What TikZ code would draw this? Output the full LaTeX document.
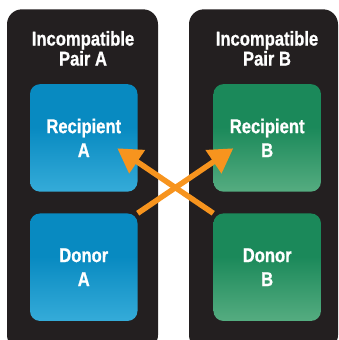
\documentclass[tikz,border=0pt]{standalone}
\usepackage{fontspec}
\setmainfont{Liberation Sans}[FakeStretch=0.83, BoldFeatures={FakeBold=0.8}]
\usetikzlibrary{arrows.meta, positioning}
\definecolor{panel}{RGB}{35,31,32}
\definecolor{bluetop}{RGB}{8,138,193}
\definecolor{bluebot}{RGB}{78,190,230}
\definecolor{greentop}{RGB}{27,137,90}
\definecolor{greenbot}{RGB}{118,192,150}
\definecolor{swap}{RGB}{247,148,30}
\pgfdeclareverticalshading{blueshade}{100bp}{color(0bp)=(bluebot); color(15bp)=(bluebot!85!bluetop); color(55bp)=(bluetop); color(100bp)=(bluetop)}
\pgfdeclareverticalshading{greenshade}{100bp}{color(0bp)=(greenbot); color(15bp)=(greenbot!85!greentop); color(55bp)=(greentop); color(100bp)=(greentop)}

\begin{document}
\begin{tikzpicture}[
    x=1pt, y=-1pt,
    pairbox/.style={rectangle, fill=panel, rounded corners=15pt, minimum width=151pt, minimum height=340.7pt, inner sep=0pt},
    title/.style={text=white, align=center, font=\bfseries\fontsize{20}{20}\selectfont},
    person/.style={rectangle, rounded corners=10pt, minimum width=107.5pt, minimum height=107.5pt, inner sep=0pt, text=white, align=center, font=\bfseries\fontsize{20}{24}\selectfont},
    arrow/.style={-{Triangle[length=24pt,width=27pt]}, line width=5.5pt, draw=swap}
]
\useasboundingbox (0,0) rectangle (339,340);
\clip (0,0) rectangle (339,340);

% Pair panels
\node[pairbox] (pairA) at (82.5,179.65) {};
\node[pairbox, minimum width=149pt] (pairB) at (263.5,179.65) {};

% Titles
\node[title] (titleA) at (83,48.4) {Incompatible\\Pair A};
\node[title] (titleB) at (267,48.4) {Incompatible\\Pair B};

% Recipients and donors
\node[person, shading=blueshade] (recipA) at (83.75,137.9) {Recipient\\A};
\node[person, shading=blueshade] (donorA) at (83.75,267.2) {Donor\\A};
\node[person, shading=greenshade] (recipB) at (267.2,137.9) {Recipient\\B};
\node[person, shading=greenshade] (donorB) at (267.2,267.2) {Donor\\B};

% Arrow tips
\coordinate (tipA) at (117.3,148.3);
\coordinate (tipB) at (233.3,148.3);

% Crossover arrows
\draw[arrow] (donorA.north east) -- (tipB);
\draw[arrow] (donorB.north west) -- (tipA);

\end{tikzpicture}
\end{document}
